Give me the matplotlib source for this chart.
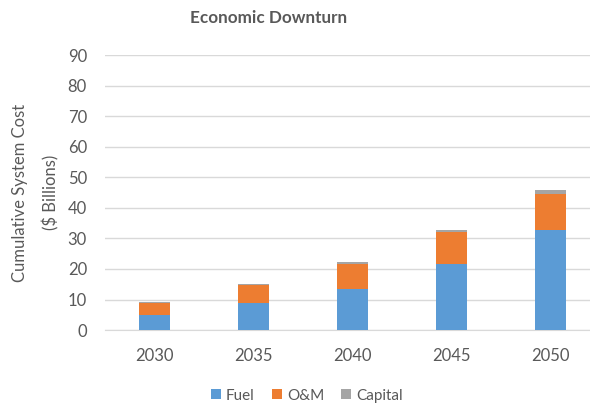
import numpy as np
import matplotlib.pyplot as plt

plt.rcParams['font.family'] = ['Lato', 'DejaVu Sans']

years = ['2030', '2035', '2040', '2045', '2050']
fuel = [5.0, 8.9, 13.5, 21.7, 32.8]
om = [3.8, 5.8, 8.2, 10.3, 11.8]
capital = [0.3, 0.4, 0.6, 0.7, 1.3]

colors = {'Fuel': '#5B9BD5', 'O&M': '#ED7D31', 'Capital': '#A5A5A5'}
text_gray = '#595959'

fig = plt.figure(figsize=(5.9, 4.08), dpi=100)
ax = fig.add_axes([0.178, 0.191, 0.839, 0.674])

x = np.arange(len(years))
w = 0.31
fuel = np.array(fuel); om = np.array(om); capital = np.array(capital)
ax.bar(x, fuel, w, color=colors['Fuel'], label='Fuel', zorder=3)
ax.bar(x, om, w, bottom=fuel, color=colors['O&M'], label='O&M', zorder=3)
ax.bar(x, capital, w, bottom=fuel + om, color=colors['Capital'], label='Capital', zorder=3)

ax.set_xlim(-0.5, len(years) - 0.5)
ax.set_ylim(0, 90)
ax.set_yticks(range(0, 91, 10))
ax.set_xticks(x)
ax.set_xticklabels(years)
ax.yaxis.grid(True, color='#D9D9D9', linewidth=1, zorder=0)
for s in ['top', 'right', 'left']:
    ax.spines[s].set_visible(False)
ax.spines['bottom'].set_color('#D9D9D9')
ax.tick_params(length=0, labelsize=12, colors=text_gray)
ax.tick_params(axis='x', pad=13)
ax.tick_params(axis='y', pad=13)

ax.set_ylabel('Cumulative System Cost\n($ Billions)', fontsize=12, color=text_gray,
              labelpad=6, linespacing=2.0)
fig.text(0.455, 0.955, 'Economic Downturn', ha='center', va='center',
         fontsize=12.3, fontweight='bold', color=text_gray)

fig.legend(loc='center', bbox_to_anchor=(0.52, 0.03), ncol=3, frameon=False,
           fontsize=11, handlelength=0.65, handleheight=0.65, handletextpad=0.35,
           columnspacing=1.1, labelcolor=text_gray)

fig.savefig('out.png', dpi=100)
